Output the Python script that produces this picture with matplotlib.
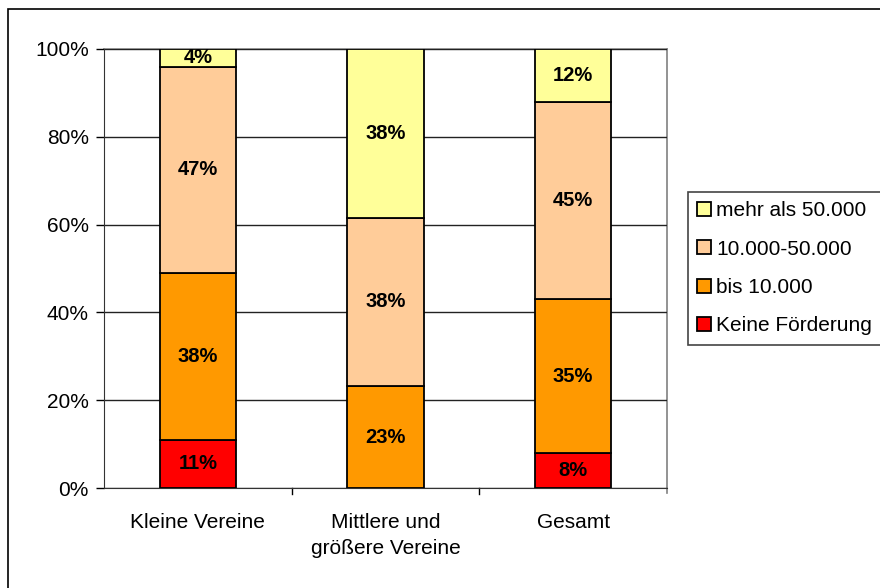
import matplotlib
matplotlib.use("Agg")
import matplotlib.pyplot as plt
import numpy as np
from matplotlib.patches import Rectangle

plt.rcParams['font.family'] = ['Liberation Sans', 'DejaVu Sans']

# Daten
kategorien = ["Kleine Vereine", "Mittlere und\ngrößere Vereine", "Gesamt"]
serien = ["Keine Förderung", "bis 10.000", "10.000-50.000", "mehr als 50.000"]
keine = [11, 0, 8]
bis_10 = [38, 23, 35]
bis_50 = [47, 38, 45]
mehr_50 = [4, 38, 12]
farben = ["#FF0000", "#FF9900", "#FFCC99", "#FFFF99"]

werte = np.array([keine, bis_10, bis_50, mehr_50], dtype=float)
anteile = werte / werte.sum(axis=0) * 100  # 100% gestapelt

fig = plt.figure(figsize=(8.8, 5.88), dpi=100)
ax = fig.add_axes([104 / 880, 100 / 588, 563 / 880, 439 / 588])

x = np.arange(len(kategorien))
unten = np.zeros(len(kategorien))
for i, name in enumerate(serien):
    bars = ax.bar(x, anteile[i], 0.405, bottom=unten, color=farben[i],
                  edgecolor="black", linewidth=1.3, label=name, zorder=3)
    for j, b in enumerate(bars):
        if werte[i, j] > 0:
            ax.text(b.get_x() + b.get_width() / 2, unten[j] + anteile[i, j] / 2,
                    f"{werte[i, j]:.0f}%", ha="center", va="center",
                    fontsize=14.5, fontweight="bold", zorder=4)
    unten += anteile[i]

ax.set_xlim(-0.5, 2.5)
ax.set_ylim(0, 100)
ax.set_yticks(np.arange(0, 101, 20))
ax.set_yticklabels([f"{v}%" for v in range(0, 101, 20)], fontsize=15)
ax.set_xticks(x)
ax.set_xticklabels(kategorien, fontsize=15, linespacing=1.45)
ax.tick_params(axis="x", length=0, pad=18)
ax.tick_params(axis="y", length=6, width=1, pad=5)
# Kategorie-Trennstriche
for pos in [0.5, 1.5]:
    ax.plot([pos, pos], [0, -1.4], color="black", lw=1, clip_on=False)
ax.plot([2.5, 2.5], [0, -1.2], color="#808080", lw=1.2, clip_on=False)

ax.yaxis.grid(True, color="#222222", lw=1, zorder=0)
for s in ["top", "right"]:
    ax.spines[s].set_color("#808080")
    ax.spines[s].set_linewidth(1.2)
    ax.spines[s].set_zorder(1)
ax.spines["left"].set_color("#333333")
ax.spines["bottom"].set_color("#333333")

h, l = ax.get_legend_handles_labels()
leg = fig.legend(h[::-1], l[::-1], loc="upper left",
                 bbox_to_anchor=(688 / 880, 1 - 192 / 588), fontsize=15,
                 frameon=True, fancybox=False, edgecolor="#444444",
                 framealpha=1,
                 handlelength=0.65, handleheight=0.65, handletextpad=0.25,
                 labelspacing=0.93, borderpad=0.45, borderaxespad=0)
leg.get_frame().set_linewidth(1.2)

# Rahmen um das Diagramm (rechts und unten abgeschnitten)
fig.patches.append(Rectangle((8 / 880, -10 / 588), 900 / 880, 589 / 588,
                             transform=fig.transFigure, fill=False,
                             edgecolor="black", lw=1.2))

fig.savefig("out.png", dpi=100)
